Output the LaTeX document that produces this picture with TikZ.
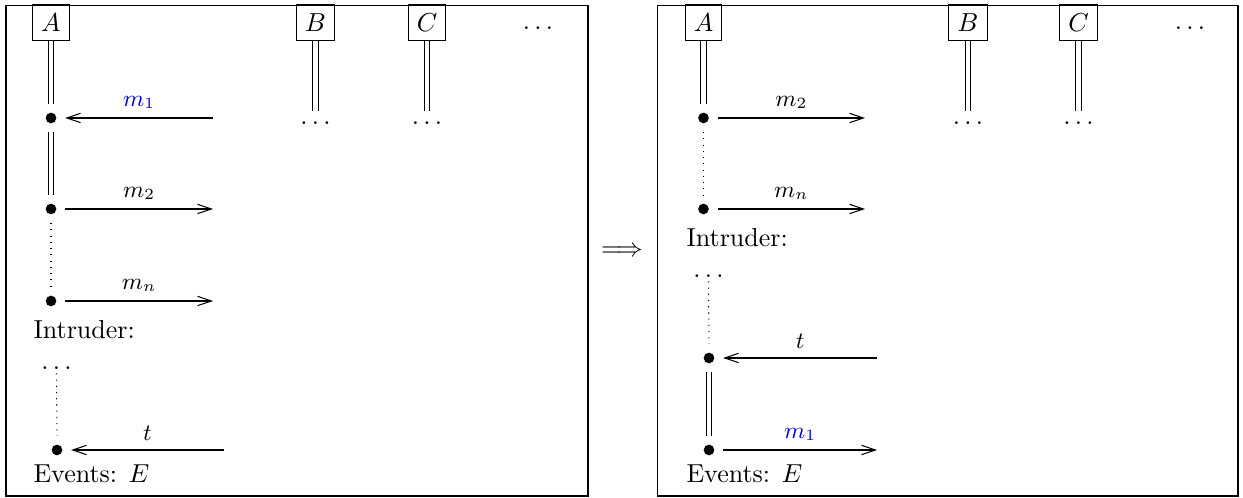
\documentclass[tikz,border=0pt]{standalone}
\usetikzlibrary{arrows.meta}
\begin{document}
\begin{tikzpicture}[x=0.3846pt,y=-0.3846pt,
  agent/.style={draw,inner sep=3.33pt},
  evdot/.style={circle,fill,inner sep=0pt,minimum size=4.1pt,outer sep=3.4pt},
  ellip/.style={inner sep=0pt,outer sep=4pt},
  idots/.style={inner sep=0pt,outer sep=1.5pt},
  lifeline/.style={double,double distance=1.6pt,line width=0.4pt},
  gap/.style={dotted},
  msg/.style={-{Straight Barb[length=5.3pt,width=3.6pt]}},
  lbl/.style={midway,above,font=\small},
  panel/.style={draw,line width=0.4pt}]
\useasboundingbox (0,0) rectangle (1243,498);

% ---------- left panel ----------
\draw[panel] (6,5.5) rectangle (588,496);
\node[agent] (lA) at (51,22.5) {$A$};
\node[agent] (lB) at (315.5,22.5) {$B$};
\node[agent] (lC) at (427,22.5) {$C$};
\node (lMore) at (538,28) {$\ldots$};
\node[ellip] (lBd) at (315.5,123) {$\ldots$};
\node[ellip] (lCd) at (427,123) {$\ldots$};
\node[evdot] (l1) at (51,118) {};
\node[evdot] (l2) at (51,209) {};
\node[evdot] (l3) at (51,301) {};
\coordinate (l1e) at (213,118);
\coordinate (l2e) at (213,209);
\coordinate (l3e) at (213,301);
\node[anchor=base west,inner sep=0pt] (lInt) at (33,339) {Intruder:};
\node[idots] (lId) at (56.5,368) {$\ldots$};
\node[evdot] (l4) at (57,450) {};
\coordinate (l4e) at (224,450);
\node[anchor=base west,inner sep=0pt] (lEv) at (33,483) {Events: $E$};

\draw[lifeline] (lA.south) -- (l1.north);
\draw[lifeline] (l1.south) -- (l2.north);
\draw[gap] (l2.south) -- (l3.north);
\draw[lifeline] (lB.south) -- (lBd.north);
\draw[lifeline] (lC.south) -- (lCd.north);
\draw[msg] (l1e) -- node[lbl,text=blue] {$m_1$} (l1);
\draw[msg] (l2) -- node[lbl] {$m_2$} (l2e);
\draw[msg] (l3) -- node[lbl] {$m_n$} (l3e);
\draw[gap] (lId.south) -- (l4.north);
\draw[msg] (l4e) -- node[lbl] {$t$} (l4);

% ---------- rewrite step ----------
\node (impl) at (622,252) {$\Longrightarrow$};

% ---------- right panel ----------
\draw[panel] (657.5,5.5) rectangle (1238,496);
\node[agent] (rA) at (703.5,22.5) {$A$};
\node[agent] (rB) at (968,22.5) {$B$};
\node[agent] (rC) at (1078.5,22.5) {$C$};
\node (rMore) at (1190,28) {$\ldots$};
\node[ellip] (rBd) at (968,123) {$\ldots$};
\node[ellip] (rCd) at (1078.5,123) {$\ldots$};
\node[evdot] (r1) at (703.5,118) {};
\node[evdot] (r2) at (703.5,209) {};
\coordinate (r1e) at (865,118);
\coordinate (r2e) at (865,209);
\node[anchor=base west,inner sep=0pt] (rInt) at (686,247) {Intruder:};
\node[idots] (rId) at (708.5,276) {$\ldots$};
\node[evdot] (r3) at (709,358) {};
\node[evdot] (r4) at (709,450) {};
\coordinate (r3e) at (877,358);
\coordinate (r4e) at (877,450);
\node[anchor=base west,inner sep=0pt] (rEv) at (686,483) {Events: $E$};

\draw[lifeline] (rA.south) -- (r1.north);
\draw[gap] (r1.south) -- (r2.north);
\draw[lifeline] (rB.south) -- (rBd.north);
\draw[lifeline] (rC.south) -- (rCd.north);
\draw[msg] (r1) -- node[lbl] {$m_2$} (r1e);
\draw[msg] (r2) -- node[lbl] {$m_n$} (r2e);
\draw[gap] (rId.south) -- (r3.north);
\draw[msg] (r3e) -- node[lbl] {$t$} (r3);
\draw[lifeline] (r3.south) -- (r4.north);
\draw[msg] (r4) -- node[lbl,text=blue] {$m_1$} (r4e);
\end{tikzpicture}
\end{document}
